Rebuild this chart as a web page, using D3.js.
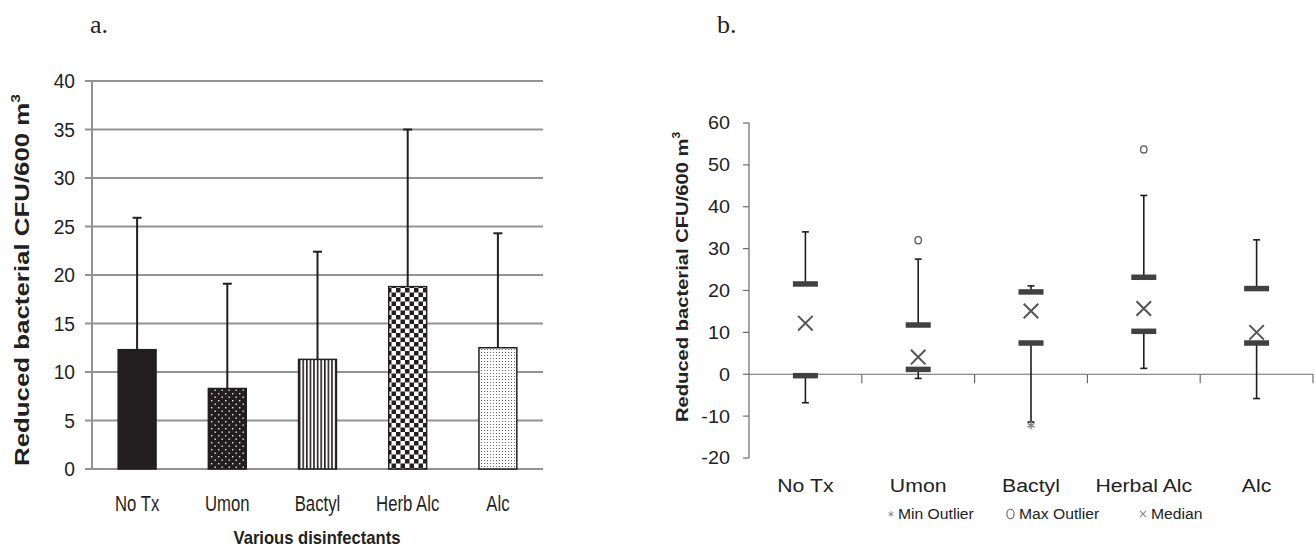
<!DOCTYPE html>
<html>
<head>
<meta charset="utf-8">
<script src="https://cdn.jsdelivr.net/npm/d3@7"></script>
<style>
  html, body { margin: 0; padding: 0; background: #fff; }
  svg { display: block; }
</style>
</head>
<body>
<div id="chart"></div>
<script>
(function() {
  "use strict";

  // ==========================================
  // DATA
  // ==========================================

  // Panel a: mean reduction and SD per disinfectant
  const categoriesA = ["No Tx", "Umon", "Bactyl", "Herb Alc", "Alc"];
  const meansA = [12.3, 8.3, 11.3, 18.8, 12.5];
  const sdA = [13.6, 10.8, 11.1, 16.2, 11.8];
  const patternsA = ["solid", "dots", "stripes", "checker", "fine"];
  const ticksA = [0, 5, 10, 15, 20, 25, 30, 35, 40];

  // Panel b: box plot summary
  const categoriesB = ["No Tx", "Umon", "Bactyl", "Herbal Alc", "Alc"];
  const minB = [-6.8, -1.0, -11.4, 1.4, -5.8];
  const q1B = [-0.4, 1.1, 7.4, 10.2, 7.4];
  const medianB = [12.2, 4.1, 15.1, 15.7, 10.0];
  const q3B = [21.5, 11.7, 19.6, 23.1, 20.4];
  const maxB = [34.0, 27.5, 21.1, 42.7, 32.1];
  const minOutlierCats = ["Bactyl"];
  const minOutlierVals = [-12.2];
  const maxOutlierCats = ["Umon", "Herbal Alc"];
  const maxOutlierVals = [32.0, 53.7];
  const ticksB = [-20, -10, 0, 10, 20, 30, 40, 50, 60];
  const legendB = ["Min Outlier", "Max Outlier", "Median"];

  // ==========================================
  // SETUP
  // ==========================================
  const W = 1315, H = 550;
  const INK = "#231f20";
  const GRID = "#939393";

  const svg = d3.select("#chart").append("svg")
    .attr("width", W)
    .attr("height", H);

  // Helper: squeeze / stretch text horizontally by factor k
  function squeeze(sel, k) {
    sel.each(function() {
      const len = this.getComputedTextLength();
      d3.select(this)
        .attr("textLength", len * k)
        .attr("lengthAdjust", "spacingAndGlyphs");
    });
  }

  // Panel letters
  svg.append("text")
    .attr("x", 90).attr("y", 33)
    .attr("font-family", "Liberation Serif, DejaVu Serif, serif")
    .attr("font-size", 26)
    .attr("fill", INK)
    .text("a.");
  svg.append("text")
    .attr("x", 717).attr("y", 33)
    .attr("font-family", "Liberation Serif, DejaVu Serif, serif")
    .attr("font-size", 26)
    .attr("fill", INK)
    .text("b.");

  // ==========================================
  // PATTERNS
  // ==========================================
  const defs = svg.append("defs");

  const pDots = defs.append("pattern").attr("id", "p-dots")
    .attr("patternUnits", "userSpaceOnUse").attr("width", 7).attr("height", 7);
  pDots.append("rect").attr("width", 7).attr("height", 7).attr("fill", INK);
  pDots.append("rect").attr("x", 1).attr("y", 1).attr("width", 1.4).attr("height", 1.4).attr("fill", "#e6e6e6");
  pDots.append("rect").attr("x", 4.5).attr("y", 4.5).attr("width", 1.4).attr("height", 1.4).attr("fill", "#e6e6e6");

  const pStripes = defs.append("pattern").attr("id", "p-stripes")
    .attr("patternUnits", "userSpaceOnUse").attr("width", 3.6).attr("height", 4);
  pStripes.append("rect").attr("width", 3.6).attr("height", 4).attr("fill", "#fff");
  pStripes.append("rect").attr("width", 1.6).attr("height", 4).attr("fill", INK);

  const pChecker = defs.append("pattern").attr("id", "p-checker")
    .attr("patternUnits", "userSpaceOnUse").attr("width", 9).attr("height", 9);
  pChecker.append("rect").attr("width", 9).attr("height", 9).attr("fill", "#fff");
  pChecker.append("rect").attr("width", 4.5).attr("height", 4.5).attr("fill", INK);
  pChecker.append("rect").attr("x", 4.5).attr("y", 4.5).attr("width", 4.5).attr("height", 4.5).attr("fill", INK);

  const pFine = defs.append("pattern").attr("id", "p-fine")
    .attr("patternUnits", "userSpaceOnUse").attr("width", 3).attr("height", 3);
  pFine.append("rect").attr("width", 3).attr("height", 3).attr("fill", "#fff");
  pFine.append("rect").attr("x", 1).attr("y", 1).attr("width", 1).attr("height", 1).attr("fill", "#6a6a6a");

  const FILLS = {
    solid: INK,
    dots: "url(#p-dots)",
    stripes: "url(#p-stripes)",
    checker: "url(#p-checker)",
    fine: "url(#p-fine)"
  };

  // ==========================================
  // PANEL A: BAR CHART WITH SD
  // ==========================================
  function drawPanelA() {
    const left = 92, right = 543, top = 81, bottom = 469;
    const x = d3.scaleBand().domain(categoriesA).range([left, right])
      .paddingInner(0.58).paddingOuter(0.29);
    const y = d3.scaleLinear().domain([0, 40]).range([bottom, top]);

    const g = svg.append("g");

    // gridlines with short ticks to the left of the axis
    g.append("g").selectAll("line")
      .data(ticksA)
      .join("line")
      .attr("x1", left - 7).attr("x2", right)
      .attr("y1", d => y(d)).attr("y2", d => y(d))
      .attr("stroke", GRID)
      .attr("stroke-width", 2);

    g.append("line")
      .attr("x1", left).attr("x2", left)
      .attr("y1", y(40)).attr("y2", y(0))
      .attr("stroke", GRID).attr("stroke-width", 2);

    // tick labels
    g.append("g").selectAll("text")
      .data(ticksA)
      .join("text")
      .attr("x", 75)
      .attr("y", d => y(d))
      .attr("dy", "0.36em")
      .attr("text-anchor", "end")
      .attr("font-family", "Liberation Sans, Arial, sans-serif")
      .attr("font-size", 20)
      .attr("fill", INK)
      .text(d => d)
      .call(squeeze, 0.96);

    // bars
    const rows = categoriesA.map((c, i) => ({ cat: c, mean: meansA[i], sd: sdA[i], pat: patternsA[i] }));

    g.append("g").selectAll("rect")
      .data(rows)
      .join("rect")
      .attr("x", d => x(d.cat))
      .attr("y", d => y(d.mean))
      .attr("width", x.bandwidth())
      .attr("height", d => y(0) - y(d.mean))
      .attr("fill", d => FILLS[d.pat])
      .attr("stroke", INK)
      .attr("stroke-width", 1.5);

    // error bars (upper only)
    const eb = g.append("g").selectAll("g")
      .data(rows)
      .join("g")
      .attr("transform", d => `translate(${x(d.cat) + x.bandwidth() / 2},0)`);
    eb.append("line")
      .attr("y1", d => y(d.mean)).attr("y2", d => y(d.mean + d.sd))
      .attr("stroke", INK).attr("stroke-width", 2);
    eb.append("line")
      .attr("x1", -4.5).attr("x2", 4.5)
      .attr("y1", d => y(d.mean + d.sd)).attr("y2", d => y(d.mean + d.sd))
      .attr("stroke", INK).attr("stroke-width", 2);

    // category labels
    g.append("g").selectAll("text")
      .data(categoriesA)
      .join("text")
      .attr("x", d => x(d) + x.bandwidth() / 2)
      .attr("y", 511)
      .attr("text-anchor", "middle")
      .attr("font-family", "Liberation Sans, Arial, sans-serif")
      .attr("font-size", 22)
      .attr("fill", INK)
      .text(d => d)
      .call(squeeze, 0.76);

    // axis titles
    g.append("text")
      .attr("x", (left + right) / 2 - 0.5)
      .attr("y", 544)
      .attr("text-anchor", "middle")
      .attr("font-family", "Liberation Sans, Arial, sans-serif")
      .attr("font-weight", "bold")
      .attr("font-size", 19)
      .attr("fill", INK)
      .attr("textLength", 167)
      .attr("lengthAdjust", "spacingAndGlyphs")
      .text("Various disinfectants");

    const yl = g.append("text")
      .attr("transform", "translate(29,280) rotate(-90)")
      .attr("text-anchor", "middle")
      .attr("font-family", "Liberation Sans, Arial, sans-serif")
      .attr("font-weight", "bold")
      .attr("font-size", 20)
      .attr("fill", INK)
      .attr("textLength", 372)
      .attr("lengthAdjust", "spacingAndGlyphs");
    yl.append("tspan").text("Reduced bacterial CFU/600 m");
    yl.append("tspan").attr("dy", -9).attr("font-size", 12).text("3");
  }

  // ==========================================
  // PANEL B: BOX PLOT SUMMARY
  // ==========================================
  function drawPanelB() {
    const left = 749, right = 1313, top = 123, bottom = 458;
    const x = d3.scaleBand().domain(categoriesB).range([left, right]);
    const y = d3.scaleLinear().domain([-20, 60]).range([bottom, top]);
    const cx = c => x(c) + x.bandwidth() / 2;
    const AX = "#6b6b6b";
    const DARK = "#1e1e1e";
    const BOX = "#414141";

    const g = svg.append("g");

    // y axis
    g.append("line")
      .attr("x1", left).attr("x2", left)
      .attr("y1", y(60)).attr("y2", y(-20))
      .attr("stroke", AX).attr("stroke-width", 1.2);
    g.append("g").selectAll("line")
      .data(ticksB)
      .join("line")
      .attr("x1", left - 6).attr("x2", left)
      .attr("y1", d => y(d)).attr("y2", d => y(d))
      .attr("stroke", AX).attr("stroke-width", 1.2);
    g.append("g").selectAll("text")
      .data(ticksB)
      .join("text")
      .attr("x", 730)
      .attr("y", d => y(d))
      .attr("dy", "0.36em")
      .attr("text-anchor", "end")
      .attr("font-family", "Liberation Sans, Arial, sans-serif")
      .attr("font-size", 18)
      .attr("fill", "#222")
      .text(d => d)
      .call(squeeze, 1.1);

    // x axis at zero with band-boundary ticks
    g.append("line")
      .attr("x1", left).attr("x2", right)
      .attr("y1", y(0)).attr("y2", y(0))
      .attr("stroke", AX).attr("stroke-width", 1.2);
    g.append("g").selectAll("line")
      .data(categoriesB)
      .join("line")
      .attr("x1", d => x(d) + x.bandwidth()).attr("x2", d => x(d) + x.bandwidth())
      .attr("y1", y(0)).attr("y2", y(0) + 9)
      .attr("stroke", AX).attr("stroke-width", 1.2);

    const rows = categoriesB.map((c, i) => ({
      cat: c, min: minB[i], q1: q1B[i], med: medianB[i], q3: q3B[i], max: maxB[i]
    }));

    const box = g.append("g").selectAll("g")
      .data(rows)
      .join("g")
      .attr("transform", d => `translate(${cx(d.cat)},0)`);

    // whiskers
    box.append("line")
      .attr("y1", d => y(d.q3)).attr("y2", d => y(d.max))
      .attr("stroke", DARK).attr("stroke-width", 1.6);
    box.append("line")
      .attr("y1", d => y(d.q1)).attr("y2", d => y(d.min))
      .attr("stroke", DARK).attr("stroke-width", 1.6);
    box.append("line")
      .attr("x1", -3.5).attr("x2", 3.5)
      .attr("y1", d => y(d.max)).attr("y2", d => y(d.max))
      .attr("stroke", DARK).attr("stroke-width", 1.6);
    box.append("line")
      .attr("x1", -3.5).attr("x2", 3.5)
      .attr("y1", d => y(d.min)).attr("y2", d => y(d.min))
      .attr("stroke", DARK).attr("stroke-width", 1.6);

    // quartile bars
    box.append("rect")
      .attr("x", -12.5).attr("width", 25)
      .attr("y", d => y(d.q3) - 3).attr("height", 5.5)
      .attr("fill", BOX);
    box.append("rect")
      .attr("x", -12.5).attr("width", 25)
      .attr("y", d => y(d.q1) - 3).attr("height", 5.5)
      .attr("fill", BOX);

    // median markers
    box.append("path")
      .attr("transform", d => `translate(0,${y(d.med)})`)
      .attr("d", d3.symbol(d3.symbolTimes).size(140)())
      .attr("fill", "none")
      .attr("stroke", "#555")
      .attr("stroke-width", 2);

    // outliers
    g.append("g").selectAll("path")
      .data(minOutlierCats.map((c, i) => ({ cat: c, v: minOutlierVals[i] })))
      .join("path")
      .attr("transform", d => `translate(${cx(d.cat)},${y(d.v)})`)
      .attr("d", d3.symbol(d3.symbolAsterisk).size(45)())
      .attr("fill", "none")
      .attr("stroke", "#888")
      .attr("stroke-width", 1.5);

    g.append("g").selectAll("ellipse")
      .data(maxOutlierCats.map((c, i) => ({ cat: c, v: maxOutlierVals[i] })))
      .join("ellipse")
      .attr("cx", d => cx(d.cat))
      .attr("cy", d => y(d.v))
      .attr("rx", 3.2).attr("ry", 3.6)
      .attr("fill", "none")
      .attr("stroke", "#555")
      .attr("stroke-width", 1.3);

    // category labels
    g.append("g").selectAll("text")
      .data(categoriesB)
      .join("text")
      .attr("x", d => cx(d))
      .attr("y", 492)
      .attr("text-anchor", "middle")
      .attr("font-family", "Liberation Sans, Arial, sans-serif")
      .attr("font-size", 18)
      .attr("fill", "#222")
      .text(d => d)
      .call(squeeze, 1.18);

    // legend
    const legX = [888, 1005, 1138];
    const leg = g.append("g").selectAll("g")
      .data(legendB)
      .join("g")
      .attr("transform", (d, i) => `translate(${legX[i]},514)`);
    leg.filter((d, i) => i === 0).append("path")
      .attr("transform", "translate(3,0)")
      .attr("d", d3.symbol(d3.symbolAsterisk).size(22)())
      .attr("fill", "none").attr("stroke", "#888").attr("stroke-width", 1);
    leg.filter((d, i) => i === 1).append("ellipse")
      .attr("cx", 5.5).attr("cy", 0)
      .attr("rx", 3.6).attr("ry", 4.8)
      .attr("fill", "none").attr("stroke", "#666").attr("stroke-width", 1.1);
    leg.filter((d, i) => i === 2).append("path")
      .attr("transform", "translate(5,0)")
      .attr("d", d3.symbol(d3.symbolTimes).size(26)())
      .attr("fill", "none").attr("stroke", "#888").attr("stroke-width", 1.1);
    leg.append("text")
      .attr("x", (d, i) => [10, 14, 13][i])
      .attr("y", 5)
      .attr("font-family", "Liberation Sans, Arial, sans-serif")
      .attr("font-size", 14)
      .attr("fill", "#222")
      .text(d => d)
      .call(squeeze, 1.12);

    // y title
    const yl = g.append("text")
      .attr("transform", "translate(688,277) rotate(-90)")
      .attr("text-anchor", "middle")
      .attr("font-family", "Liberation Sans, Arial, sans-serif")
      .attr("font-weight", "bold")
      .attr("font-size", 17)
      .attr("fill", "#222")
      .attr("textLength", 290)
      .attr("lengthAdjust", "spacingAndGlyphs");
    yl.append("tspan").text("Reduced bacterial CFU/600 m");
    yl.append("tspan").attr("dy", -8).attr("font-size", 10).text("3");
  }

  drawPanelA();
  drawPanelB();
})();
</script>
</body>
</html>
